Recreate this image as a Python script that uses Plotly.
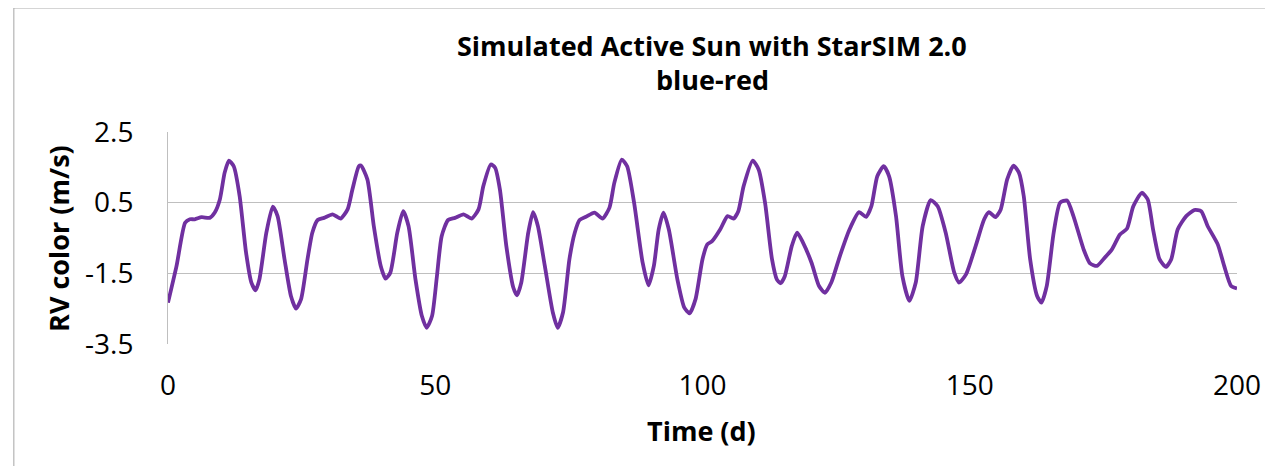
import plotly.graph_objects as go

time_d = [0, 1.6, 3.2, 4.1, 5.0, 6.3, 7.8, 8.75, 9.7, 10.6, 11.4, 12.3, 13.4, 14.6, 15.6, 16.4, 17.1,
          18.4, 19.6, 20.5, 21.8, 23.0, 23.95, 24.9, 26.1, 27.0, 28.0, 29.2, 30.8, 32.3, 33.6, 34.5,
          35.7, 36.1, 37.3, 38.5, 39.8, 40.7, 41.6, 42.9, 44.0, 45.0, 46.3, 47.5, 48.4, 49.4, 50.3,
          51.2, 52.4, 53.7, 55.3, 56.8, 58.1, 59.0, 60.4, 61.2, 62.1, 63.3, 64.6, 65.3, 66.1, 67.4,
          68.3, 69.2, 70.5, 72.0, 72.9, 73.9, 75.1, 76.1, 77.0, 78.2, 79.8, 81.3, 82.6, 83.5, 84.9,
          85.9, 87.2, 88.8, 89.9, 90.9, 91.8, 92.7, 93.7, 95.3, 96.6, 97.6, 98.7, 100.0, 100.9,
          101.8, 103.3, 104.7, 105.8, 106.7, 107.7, 109.4, 110.5, 111.7, 113.0, 113.9, 114.6, 115.4,
          116.7, 117.7, 118.8, 120.4, 121.8, 122.9, 124.1, 125.7, 127.5, 129.3, 130.6, 131.6, 132.7,
          133.9, 134.9, 136.2, 137.4, 138.7, 139.9, 141.2, 142.7, 144.0, 145.5, 147.1, 148.0, 149.3,
          151.1, 152.7, 153.6, 154.8, 155.8, 157.0, 158.2, 159.2, 160.1, 161.3, 162.6, 163.4, 164.4,
          165.7, 166.9, 168.2, 169.4, 171.3, 172.5, 173.8, 175.0, 176.6, 178.1, 179.4, 180.6, 182.2,
          183.3, 184.3, 185.5, 186.7, 187.7, 188.9, 190.5, 192.0, 193.3, 194.5, 196.4, 197.6, 198.9,
          200.0]
rv_color = [-2.33, -1.29, -0.07, 0.03, 0.03, 0.09, 0.07, 0.22, 0.59, 1.35, 1.69, 1.53, 0.69, -0.91,
            -1.76, -1.98, -1.67, -0.35, 0.39, 0.12, -1.10, -2.14, -2.50, -2.23, -1.10, -0.35, 0.01,
            0.07, 0.17, 0.05, 0.31, 0.87, 1.53, 1.55, 1.16, -0.16, -1.29, -1.65, -1.48, -0.35, 0.26,
            -0.16, -1.67, -2.71, -3.04, -2.71, -1.60, -0.45, 0.01, 0.07, 0.17, 0.05, 0.31, 0.97, 1.58,
            1.49, 0.87, -0.73, -1.90, -2.12, -1.76, -0.35, 0.23, -0.16, -1.29, -2.61, -3.04, -2.61,
            -1.10, -0.35, 0.01, 0.10, 0.22, 0.05, 0.36, 1.06, 1.72, 1.53, 0.50, -1.20, -1.84, -1.29,
            -0.26, 0.22, -0.26, -1.67, -2.47, -2.63, -2.23, -1.10, -0.68, -0.59, -0.26, 0.12, 0.05,
            0.26, 0.97, 1.69, 1.44, 0.50, -1.10, -1.67, -1.78, -1.58, -0.73, -0.35, -0.63, -1.20,
            -1.86, -2.05, -1.76, -1.01, -0.26, 0.23, 0.10, 0.40, 1.25, 1.53, 1.25, 0.12, -1.58, -2.28,
            -1.76, -0.16, 0.57, 0.40, -0.35, -1.48, -1.76, -1.53, -0.73, 0.03, 0.23, 0.09, 0.31, 1.16,
            1.55, 1.35, 0.69, -1.10, -2.14, -2.33, -1.86, -0.35, 0.50, 0.56, 0.12, -0.82, -1.22, -1.29,
            -1.10, -0.82, -0.40, -0.24, 0.40, 0.78, 0.59, -0.26, -1.10, -1.32, -1.10, -0.26, 0.12,
            0.29, 0.26, -0.16, -0.68, -1.29, -1.86, -1.93]

y_ticks = [-3.5, -1.5, 0.5, 2.5]
x_ticks = [0, 50, 100, 150, 200]
title_lines = ["Simulated Active Sun with StarSIM 2.0", "blue-red"]
x_title = "Time (d)"
y_title = "RV color (m/s)"

FONT = "Open Sans, sans-serif"

fig = go.Figure()
fig.add_trace(go.Scatter(x=time_d, y=rv_color, mode="lines",
                         line=dict(color="#7030A0", width=3.8, shape="spline", smoothing=0.6),
                         showlegend=False))

fig.update_layout(
    width=1265, height=458,
    margin=dict(l=160, r=30, t=124, b=122, pad=0),
    paper_bgcolor="white", plot_bgcolor="white",
    font=dict(family=FONT, color="black"),
    showlegend=False,
)
fig.update_xaxes(range=[0, 200], tickvals=x_ticks, ticktext=[str(v) for v in x_ticks],
                 showgrid=False, zeroline=False, showline=False, ticks="",
                 ticklabelstandoff=22,
                 tickfont=dict(size=28, family=FONT))
fig.update_yaxes(range=[-3.5, 2.5], tickvals=y_ticks, ticktext=[str(v) for v in y_ticks],
                 showgrid=True, gridcolor="#bfbfbf", gridwidth=1, zeroline=False,
                 showline=True, linecolor="#bfbfbf", linewidth=1, ticks="",
                 ticklabelstandoff=28,
                 tickfont=dict(size=28, family=FONT))

fig.add_annotation(text="<b>%s</b>" % title_lines[0], xref="paper", yref="paper",
                   x=0.509, y=1.409, xanchor="center", yanchor="middle", showarrow=False,
                   font=dict(size=27, family=FONT))
fig.add_annotation(text="<b>%s</b>" % title_lines[1], xref="paper", yref="paper",
                   x=0.509, y=1.248, xanchor="center", yanchor="middle", showarrow=False,
                   font=dict(size=27, family=FONT))
fig.add_annotation(text="<b>%s</b>" % x_title, xref="paper", yref="paper",
                   x=0.499, y=-0.407, xanchor="center", yanchor="middle", showarrow=False,
                   font=dict(size=27, family=FONT))
fig.add_annotation(text="<b>%s</b>" % y_title, xref="paper", yref="paper", textangle=-90,
                   x=-0.103, y=0.5, xanchor="center", yanchor="middle", showarrow=False,
                   font=dict(size=27, family=FONT))

# outer chart border (partially clipped by the window)
fig.add_shape(type="rect", xref="paper", yref="paper", x0=-0.1442, x1=1.2, y0=-1.0, y1=1.585,
              line=dict(color="#a6a6a6", width=1), layer="below")

fig.write_html("out.html")
